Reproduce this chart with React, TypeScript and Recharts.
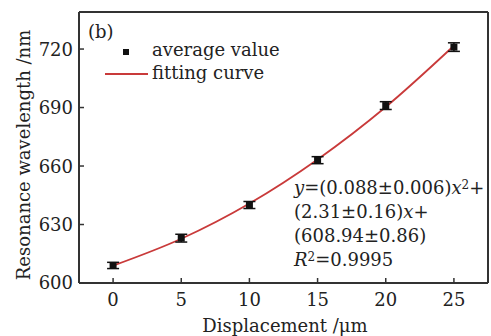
import React from "react";
import {
  ComposedChart,
  ErrorBar,
  Line,
  ReferenceLine,
  Scatter,
  XAxis,
  YAxis,
} from "recharts";

const displacements = [0, 5, 10, 15, 20, 25];
const averageValues = [609, 623, 640, 663, 691, 721];
const errorValues = [1.6, 2, 1.8, 1.8, 2, 2.2];
const fittedValues = [608.9, 622.7, 640.8, 663.4, 690.3, 721.7];
const xTicks = [0, 5, 10, 15, 20, 25];
const yTicks = [600, 630, 660, 690, 720];

const FONT = "'DejaVu Serif', 'Liberation Serif', serif";
const AXIS = "#333333";
const RED = "#c93a3a";

const points = displacements.map((x, i) => ({ x, y: averageValues[i], err: errorValues[i] }));
const fitData = displacements.map((x, i) => ({ x, y: fittedValues[i] }));

// ticks point inwards, so draw the tick line along with the label
const XTick = ({ x, y, payload }: any) => (
  <g>
    <line x1={x} x2={x} y1={y - 10} y2={y - 15} stroke={AXIS} strokeWidth={1.5} />
    <text x={x} y={y} dy="0.71em" textAnchor="middle" fontFamily={FONT} fontSize={18} fill="#222">
      {payload.value}
    </text>
  </g>
);

const YTick = ({ x, y, payload }: any) => (
  <g>
    <line x1={x + 6} x2={x + 11} y1={y} y2={y} stroke={AXIS} strokeWidth={1.5} />
    <text x={x} y={y} dy="0.36em" textAnchor="end" fontFamily={FONT} fontSize={18} fill="#222">
      {payload.value}
    </text>
  </g>
);

const SquareDot = ({ cx, cy }: any) => <rect x={cx - 3.5} y={cy - 3.5} width={7} height={7} fill="#111" />;

const label: React.CSSProperties = {
  position: "absolute",
  fontFamily: FONT,
  fontSize: 18,
  color: "#222",
  whiteSpace: "nowrap",
  lineHeight: "20px",
};

const sup: React.CSSProperties = { fontSize: 12, lineHeight: 0, verticalAlign: "0.45em" };

export default function App() {
  return (
    <div style={{ position: "absolute", left: 0, top: 0, width: 491, height: 336, background: "#fff" }}>
      <ComposedChart width={491} height={336} margin={{ top: 12, right: 3, bottom: 0, left: 0 }}>
        <XAxis
          dataKey="x"
          type="number"
          domain={[-2.5, 27.5]}
          ticks={xTicks}
          allowDataOverflow
          height={53}
          tickSize={0}
          tickMargin={10}
          tickLine={false}
          tick={<XTick />}
          axisLine={{ stroke: AXIS, strokeWidth: 2 }}
        />
        <YAxis
          type="number"
          domain={[600, 739]}
          ticks={yTicks}
          allowDataOverflow
          width={79}
          tickSize={0}
          tickMargin={6}
          tickLine={false}
          tick={<YTick />}
          axisLine={{ stroke: AXIS, strokeWidth: 2 }}
        />
        <ReferenceLine y={739} stroke={AXIS} strokeWidth={2} />
        <ReferenceLine x={27.5} stroke={AXIS} strokeWidth={2} />
        <Line
          data={fitData}
          dataKey="y"
          type="monotone"
          stroke={RED}
          strokeWidth={1.8}
          dot={false}
          isAnimationActive={false}
        />
        <Scatter data={points} dataKey="y" shape={<SquareDot />} isAnimationActive={false}>
          <ErrorBar dataKey="err" width={6} stroke="#111" strokeWidth={1.5} direction="y" />
        </Scatter>
      </ComposedChart>

      {/* legend */}
      <div style={{ ...label, left: 88, top: 22 }}>(b)</div>
      <div style={{ position: "absolute", left: 123, top: 49, width: 6, height: 6, background: "#111" }} />
      <div style={{ ...label, left: 152, top: 40 }}>average value</div>
      <div style={{ position: "absolute", left: 105, top: 73, width: 43, height: 2, background: RED }} />
      <div style={{ ...label, left: 152, top: 63 }}>fitting curve</div>

      {/* fit equation */}
      <div style={{ ...label, left: 294, top: 176, lineHeight: "24px" }}>
        <div>
          <i>y</i>=(0.088±0.006)<i>x</i>
          <span style={sup}>2</span>+
        </div>
        <div>
          (2.31±0.16)<i>x</i>+
        </div>
        <div>(608.94±0.86)</div>
        <div>
          <i>R</i>
          <span style={sup}>2</span>=0.9995
        </div>
      </div>

      {/* axis titles */}
      <div style={{ ...label, left: 285, top: 316, transform: "translateX(-50%)" }}>Displacement /μm</div>
      <div
        style={{
          ...label,
          left: 24,
          top: 155,
          transform: "translate(-50%, -50%) rotate(-90deg)",
        }}
      >
        Resonance wavelength /nm
      </div>
    </div>
  );
}
